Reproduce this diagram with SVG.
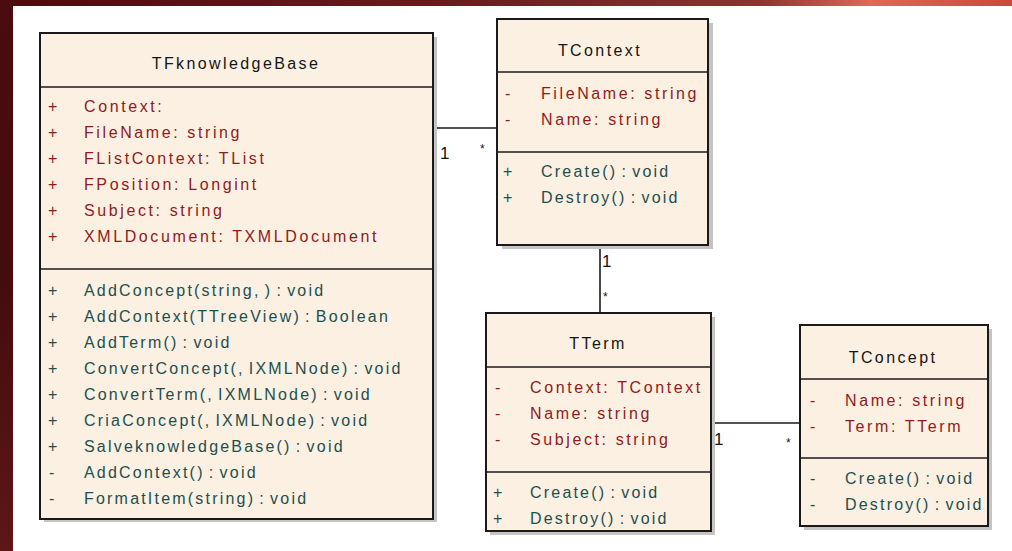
<svg xmlns="http://www.w3.org/2000/svg" width="1012" height="551" viewBox="0 0 1012 551">
  <defs>
    <linearGradient id="topBand" x1="0" y1="0" x2="1" y2="0">
      <stop offset="0" stop-color="#4a0c0e"/>
      <stop offset="0.45" stop-color="#6a1c1e"/>
      <stop offset="0.75" stop-color="#8e3230"/>
      <stop offset="0.86" stop-color="#e2665a"/>
      <stop offset="1" stop-color="#c9483f"/>
    </linearGradient>
    <linearGradient id="sideBand" x1="0" y1="0" x2="0" y2="1">
      <stop offset="0" stop-color="#4a0c0e"/>
      <stop offset="0.5" stop-color="#430c0d"/>
      <stop offset="1" stop-color="#5e1618"/>
    </linearGradient>
  </defs>
  <style>
    .shadow { fill: #c4c4c4; }
    .box { fill: #fbf0e2; stroke: #1a1a1a; stroke-width: 2; }
    .sep { stroke: #1a1a1a; stroke-width: 1.6; }
    .title { font-family: "Liberation Sans", Arial, sans-serif; font-size: 16px; fill: #151515; text-anchor: middle; letter-spacing: 2.4px; }
    .attr { font-family: "Liberation Sans", Arial, sans-serif; font-size: 16px; fill: #921a1a; letter-spacing: 2.6px; }
    .op { font-family: "Liberation Sans", Arial, sans-serif; font-size: 16px; fill: #1d4f4e; letter-spacing: 2.2px; word-spacing: -2.5px; }
    .edge { stroke: #1a1a1a; stroke-width: 1.6; fill: none; }
    .mult { font-family: "Liberation Sans", Arial, sans-serif; font-size: 17px; fill: #151515; }
    .star { font-family: "Liberation Sans", Arial, sans-serif; font-size: 12px; fill: #151515; }
  </style>

  <!-- page background and frame bands -->
  <rect x="0" y="0" width="1012" height="551" fill="#ffffff"/>
  <rect x="0" y="0" width="13" height="551" fill="url(#sideBand)"/>
  <rect x="0" y="0" width="1012" height="6" fill="url(#topBand)"/>

  <!-- associations -->
  <g id="connectors">
    <line class="edge" x1="433" y1="128" x2="497" y2="128"/>
    <text class="mult" x="440" y="159">1</text>
    <text class="star" x="480" y="153">*</text>

    <line class="edge" x1="600" y1="245" x2="600" y2="313"/>
    <text class="mult" x="602" y="267">1</text>
    <text class="star" x="603" y="301">*</text>

    <line class="edge" x1="711" y1="423" x2="800" y2="423"/>
    <text class="mult" x="714" y="445">1</text>
    <text class="star" x="786" y="447">*</text>
  </g>

  <!-- TFknowledgeBase -->
  <g id="TFknowledgeBase">
    <rect class="shadow" x="44" y="37" width="393" height="485"/>
    <rect class="box" x="40" y="33" width="393" height="486"/>
    <line class="sep" x1="40" y1="87" x2="433" y2="87"/>
    <line class="sep" x1="40" y1="269" x2="433" y2="269"/>
    <text class="title" x="236" y="69">TFknowledgeBase</text>
    <g class="attr">
      <text x="48" y="112">+</text><text x="84" y="112">Context:</text>
      <text x="48" y="138">+</text><text x="84" y="138">FileName: string</text>
      <text x="48" y="164">+</text><text x="84" y="164">FListContext: TList</text>
      <text x="48" y="190">+</text><text x="84" y="190">FPosition: Longint</text>
      <text x="48" y="216">+</text><text x="84" y="216">Subject: string</text>
      <text x="48" y="242">+</text><text x="84" y="242">XMLDocument: TXMLDocument</text>
    </g>
    <g class="op">
      <text x="48" y="296">+</text><text x="84" y="296">AddConcept(string, ) : void</text>
      <text x="48" y="322">+</text><text x="84" y="322">AddContext(TTreeView) : Boolean</text>
      <text x="48" y="348">+</text><text x="84" y="348">AddTerm() : void</text>
      <text x="48" y="374">+</text><text x="84" y="374">ConvertConcept(, IXMLNode) : void</text>
      <text x="48" y="400">+</text><text x="84" y="400">ConvertTerm(, IXMLNode) : void</text>
      <text x="48" y="426">+</text><text x="84" y="426">CriaConcept(, IXMLNode) : void</text>
      <text x="48" y="452">+</text><text x="84" y="452">SalveknowledgeBase() : void</text>
      <text x="49" y="478">-</text><text x="84" y="478">AddContext() : void</text>
      <text x="49" y="504">-</text><text x="84" y="504">FormatItem(string) : void</text>
    </g>
  </g>

  <!-- TContext -->
  <g id="TContext">
    <rect class="shadow" x="502" y="23" width="211" height="226"/>
    <rect class="box" x="497" y="19" width="211" height="226"/>
    <line class="sep" x1="497" y1="72" x2="708" y2="72"/>
    <line class="sep" x1="497" y1="152" x2="708" y2="152"/>
    <text class="title" x="600" y="56">TContext</text>
    <g class="attr">
      <text x="505" y="99">-</text><text x="541" y="99">FileName: string</text>
      <text x="505" y="125">-</text><text x="541" y="125">Name: string</text>
    </g>
    <g class="op">
      <text x="503" y="177">+</text><text x="541" y="177">Create() : void</text>
      <text x="503" y="203">+</text><text x="541" y="203">Destroy() : void</text>
    </g>
  </g>

  <!-- TTerm -->
  <g id="TTerm">
    <rect class="shadow" x="490" y="317" width="225" height="218"/>
    <rect class="box" x="486" y="313" width="225" height="218"/>
    <line class="sep" x1="486" y1="367" x2="711" y2="367"/>
    <line class="sep" x1="486" y1="472" x2="711" y2="472"/>
    <text class="title" x="598" y="349">TTerm</text>
    <g class="attr">
      <text x="495" y="393">-</text><text x="530" y="393">Context: TContext</text>
      <text x="495" y="419">-</text><text x="530" y="419">Name: string</text>
      <text x="495" y="445">-</text><text x="530" y="445">Subject: string</text>
    </g>
    <g class="op">
      <text x="493" y="498">+</text><text x="530" y="498">Create() : void</text>
      <text x="493" y="524">+</text><text x="530" y="524">Destroy() : void</text>
    </g>
  </g>

  <!-- TConcept -->
  <g id="TConcept">
    <rect class="shadow" x="804" y="329" width="188" height="201"/>
    <rect class="box" x="800" y="325" width="188" height="201"/>
    <line class="sep" x1="800" y1="379" x2="988" y2="379"/>
    <line class="sep" x1="800" y1="458" x2="988" y2="458"/>
    <text class="title" x="893" y="363">TConcept</text>
    <g class="attr">
      <text x="810" y="406">-</text><text x="845" y="406">Name: string</text>
      <text x="810" y="432">-</text><text x="845" y="432">Term: TTerm</text>
    </g>
    <g class="op">
      <text x="810" y="484">-</text><text x="845" y="484">Create() : void</text>
      <text x="810" y="510">-</text><text x="845" y="510">Destroy() : void</text>
    </g>
  </g>
</svg>
